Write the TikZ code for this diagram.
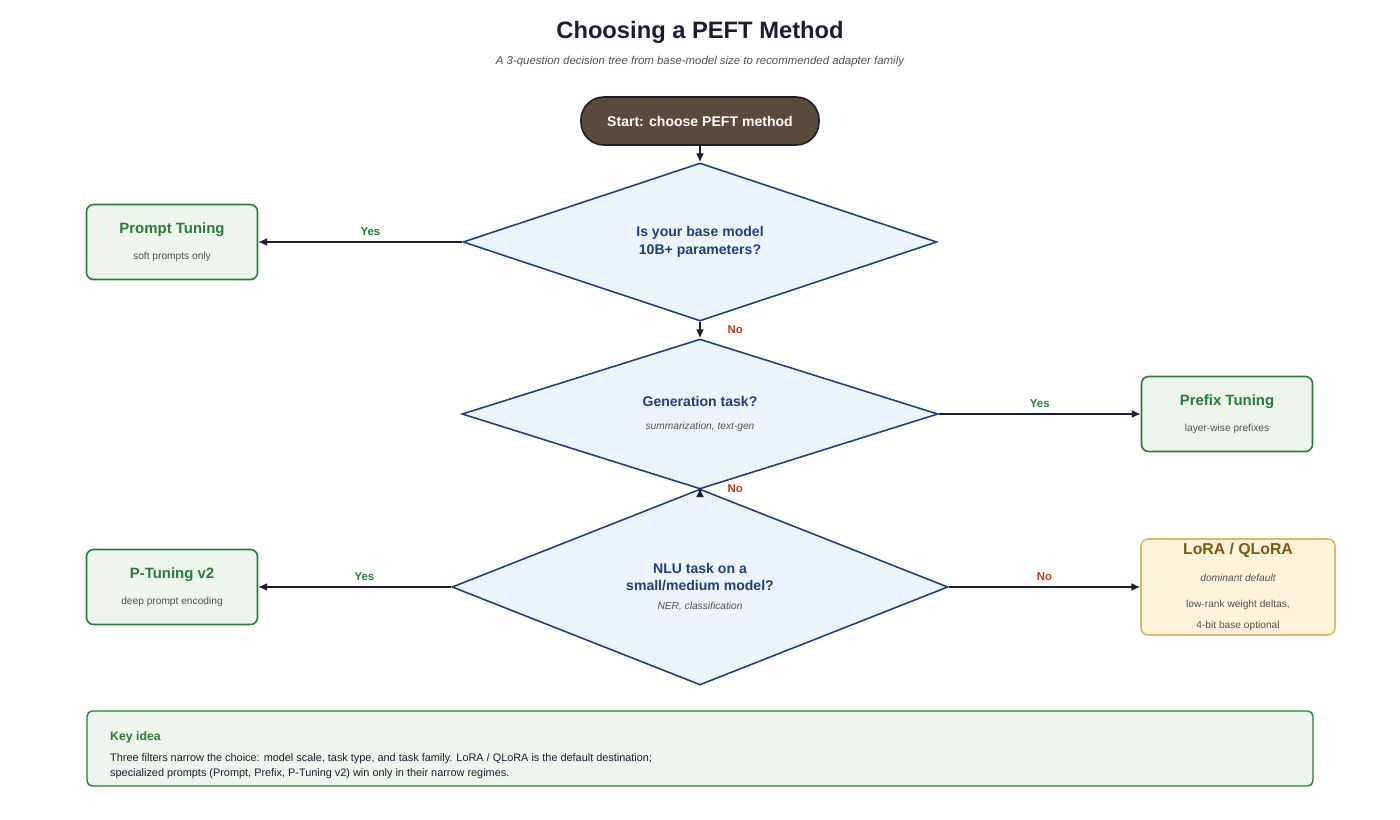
\documentclass[tikz,border=0pt]{standalone}
\usepackage{fontspec}
\setmainfont{Liberation Sans}
\usetikzlibrary{shapes.geometric,arrows.meta}
\definecolor{ink}{HTML}{1C1C2E}
\definecolor{qblue}{HTML}{1F3F7A}
\definecolor{qfill}{HTML}{EDF3FA}
\definecolor{okgreen}{HTML}{2A7A3A}
\definecolor{okfill}{HTML}{EDF5EC}
\definecolor{nored}{HTML}{B0401A}
\definecolor{goldline}{HTML}{D9B96A}
\definecolor{goldfill}{HTML}{FDF3D9}
\definecolor{goldtext}{HTML}{7A5A14}
\definecolor{brownfill}{HTML}{5A4A3A}
\definecolor{softgray}{HTML}{555048}
\newcommand\subtxt{\color{softgray}\normalfont\fontsize{5.8}{7.5}\selectfont}
\tikzset{
  px/.style={x=0.02cm,y=-0.02cm},
  question/.style={diamond,draw=qblue,fill=qfill,line width=0.9pt,inner sep=0pt,
    text=qblue,align=center,font=\fontsize{8}{10}\selectfont\bfseries},
  result/.style={draw=okgreen,fill=okfill,line width=0.9pt,rounded corners=4pt,
    align=center,inner sep=0pt,minimum height=75*0.02cm,minimum width=171*0.02cm},
  flow/.style={-{Latex[length=5pt,width=4.5pt]},ink,line width=0.8pt},
  yes/.style={text=okgreen,font=\fontsize{6.5}{8}\selectfont\bfseries},
  no/.style={text=nored,font=\fontsize{6.5}{8}\selectfont\bfseries},
}
\begin{document}
\begin{tikzpicture}[px]
\useasboundingbox (0,0) rectangle (1400,819);

% title
\node[text=ink,font=\fontsize{13.5}{16}\selectfont\bfseries] (title) at (700,32) {Choosing a PEFT Method};
\node[text=softgray,font=\fontsize{6.5}{8}\selectfont\itshape] (subtitle) at (700,62) {A 3-question decision tree from base-model size to recommended adapter family};

% start
\node[draw=ink,fill=brownfill,rounded corners=13pt,line width=0.9pt,text=white,
  font=\fontsize{8}{10}\selectfont\bfseries,minimum width=238*0.02cm,minimum height=48*0.02cm] (start) at (700,121) {Start: choose PEFT method};

% questions
\node[question,minimum width=474*0.02cm,minimum height=140*0.02cm] (scale) at (700,242) {Is your base model\\10B+ parameters?};
\node[question,minimum width=476*0.02cm,minimum height=140*0.02cm] (gen) at (700,414) {Generation task?\\[3pt]{\subtxt\itshape summarization, text-gen}};
\node[question,minimum width=496*0.02cm,minimum height=140*0.02cm] (nlu) at (700,587) {NLU task on a\\small/medium model?\\[1pt]{\subtxt\itshape NER, classification}};

% results
\node[result] (prompt) at (172,242) {{\color{okgreen}\fontsize{8.5}{10}\selectfont\bfseries Prompt Tuning}\\[3pt]{\subtxt soft prompts only}};
\node[result] (prefix) at (1227,414) {{\color{okgreen}\fontsize{8.5}{10}\selectfont\bfseries Prefix Tuning}\\[3pt]{\subtxt layer-wise prefixes}};
\node[result] (ptune) at (172,587) {{\color{okgreen}\fontsize{8.5}{10}\selectfont\bfseries P-Tuning v2}\\[3pt]{\subtxt deep prompt encoding}};
\node[result,draw=goldline,fill=goldfill,minimum width=194*0.02cm,minimum height=96*0.02cm] (lora) at (1238,587)
  {{\color{goldtext}\fontsize{9}{11}\selectfont\bfseries LoRA / QLoRA}\\[3pt]{\subtxt\itshape dominant default}\\[3pt]{\subtxt low-rank weight deltas,}\\{\subtxt 4-bit base optional}};

% connectors
\draw[flow] (start) -- (scale);
\draw[flow] (scale) -- node[yes,above,pos=0.45] {Yes} (prompt);
\draw[flow] (scale) -- node[no,right,xshift=12pt] {No} (gen);
\draw[flow] (gen) -- node[yes,above] {Yes} (prefix);
\draw[flow] (gen) -- node[no,right,xshift=12pt] {No} (nlu);
\draw[flow] (nlu) -- node[yes,above,pos=0.45] {Yes} (ptune);
\draw[flow] (nlu) -- node[no,above] {No} (lora);

% key idea
\node[draw=okgreen,fill=okfill,line width=0.8pt,rounded corners=3pt,minimum width=1226*0.02cm,minimum height=75*0.02cm] (keybox) at (700,748.5) {};
\node[anchor=north west,text=okgreen,font=\fontsize{7}{9}\selectfont\bfseries] (keytitle) at (104,725) {Key idea};
\node[anchor=north west,text=ink,align=left,font=\fontsize{6.2}{8.5}\selectfont] (keytext) at (104,747)
  {Three filters narrow the choice: model scale, task type, and task family. LoRA / QLoRA is the default destination;\\specialized prompts (Prompt, Prefix, P-Tuning v2) win only in their narrow regimes.};
\end{tikzpicture}
\end{document}
